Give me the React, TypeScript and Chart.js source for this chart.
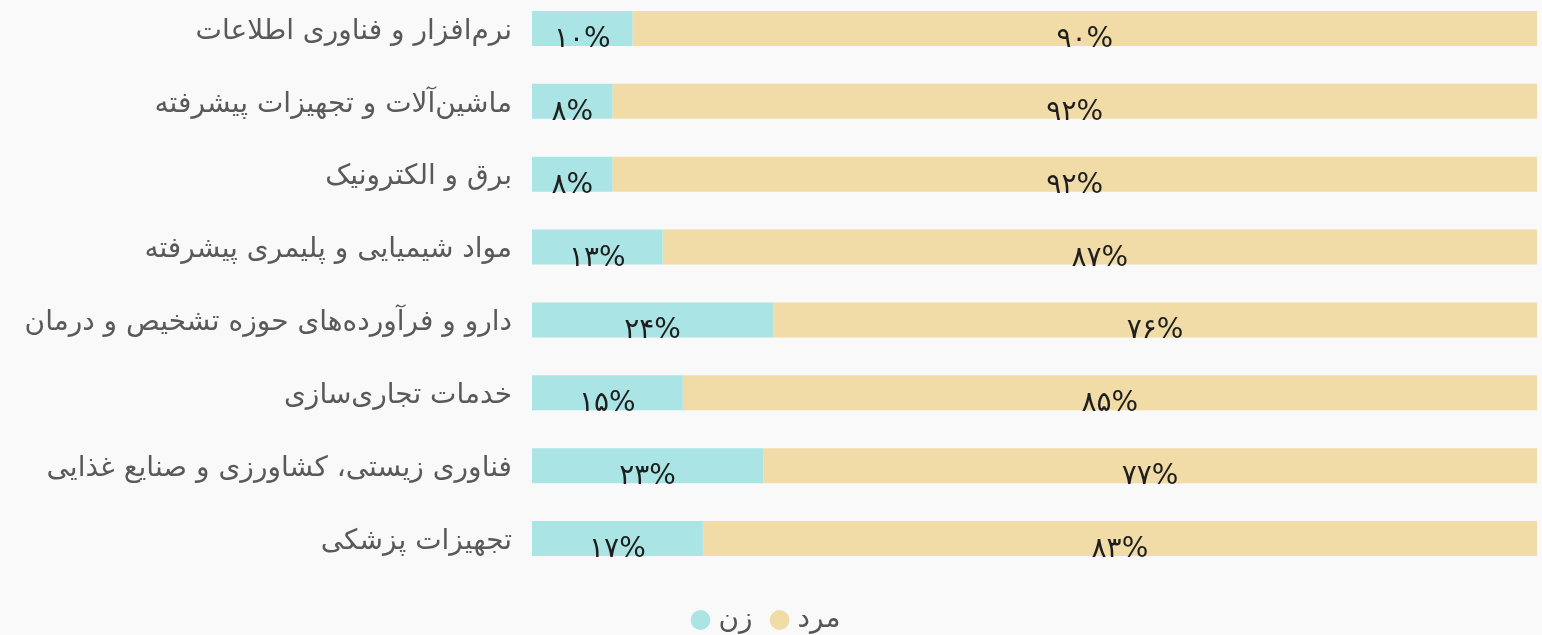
import { useEffect, useRef } from 'react';
import { Chart, registerables } from 'chart.js';

Chart.register(...registerables);

const categories = [
  'نرم‌افزار و فناوری اطلاعات',
  'ماشین‌آلات و تجهیزات پیشرفته',
  'برق و الکترونیک',
  'مواد شیمیایی و پلیمری پیشرفته',
  'دارو و فرآورده‌های حوزه تشخیص و درمان',
  'خدمات تجاری‌سازی',
  'فناوری زیستی، کشاورزی و صنایع غذایی',
  'تجهیزات پزشکی',
];
const seriesNames = ['زن', 'مرد'];
const womenValues = [10, 8, 8, 13, 24, 15, 23, 17];
const menValues = [90, 92, 92, 87, 76, 85, 77, 83];

const WOMEN_COLOR = '#abe4e4';
const MEN_COLOR = '#f1dba7';
const BG = '#f9f9f9';
const FONT = '"DejaVu Sans", sans-serif';

const toFa = (n: number) => String(n).replace(/\d/g, (d) => '۰۱۲۳۴۵۶۷۸۹'[Number(d)]);

const valueLabels = {
  id: 'valueLabels',
  afterDatasetsDraw(chart: any) {
    const { ctx } = chart;
    ctx.save();
    ctx.font = `28px ${FONT}`;
    ctx.fillStyle = '#1e1e1e';
    ctx.textAlign = 'center';
    ctx.textBaseline = 'alphabetic';
    chart.data.datasets.forEach((ds: any, di: number) => {
      const meta = chart.getDatasetMeta(di);
      meta.data.forEach((bar: any, i: number) => {
        const { x, y, base, height } = bar.getProps(['x', 'y', 'base', 'height'], true);
        ctx.fillText(toFa(ds.data[i]) + '%', (x + base) / 2, y + height / 2 + 1);
      });
    });
    ctx.restore();
  },
};

export default function App() {
  const ref = useRef<HTMLCanvasElement>(null);
  useEffect(() => {
    document.body.style.margin = '0';
    document.body.style.background = BG;
    document.documentElement.style.overflow = 'hidden';
    Chart.defaults.font.family = FONT;
    const chart = new Chart(ref.current as HTMLCanvasElement, {
      type: 'bar',
      data: {
        labels: categories,
        datasets: [
          {
            label: seriesNames[0],
            data: womenValues,
            backgroundColor: WOMEN_COLOR,
            borderWidth: 0,
            barPercentage: 0.6,
            categoryPercentage: 0.8,
          },
          {
            label: seriesNames[1],
            data: menValues,
            backgroundColor: MEN_COLOR,
            borderWidth: 0,
            barPercentage: 0.6,
            categoryPercentage: 0.8,
          },
        ],
      },
      options: {
        indexAxis: 'y',
        animation: false,
        responsive: false,
        layout: { padding: { left: 0, right: 5, top: 0, bottom: 0 } },
        scales: {
          x: { stacked: true, display: false, min: 0, max: 100 },
          y: {
            stacked: true,
            grid: { display: false, drawTicks: false },
            border: { display: false },
            ticks: { padding: 20, labelOffset: 3, color: '#595959', font: { size: 28 } },
            afterFit: (s: any) => {
              s.width = 532;
              s.paddingTop = 0;
              s.paddingBottom = 0;
            },
          },
        },
        plugins: {
          legend: {
            position: 'bottom',
            labels: {
              usePointStyle: true,
              pointStyle: 'circle',
              boxWidth: 8,
              boxHeight: 14,
              padding: 23,
              color: '#555555',
              font: { size: 28 },
            },
            title: { display: true, text: '', padding: { top: 2, bottom: 0 }, font: { size: 5 } },
          },
          tooltip: { enabled: false },
        },
      },
      plugins: [valueLabels],
    });
    return () => chart.destroy();
  }, []);
  return (
    <div style={{ position: 'relative', width: 1542, height: 635, overflow: 'hidden', background: BG }}>
      <canvas
        ref={ref}
        width={1542}
        height={652}
        style={{ position: 'absolute', left: 0, top: -8, display: 'block' }}
      />
    </div>
  );
}
